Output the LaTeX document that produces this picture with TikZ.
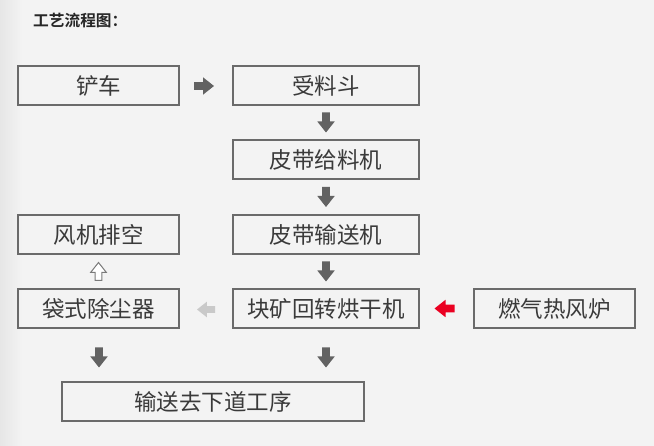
\documentclass[tikz,border=0pt]{standalone}
\usepackage{fontspec}
\newfontfamily\cjk{Noto Sans CJK SC}
\newfontfamily\cjkb{Noto Sans CJK SC Bold}
\usetikzlibrary{calc}
\definecolor{bgc}{HTML}{F3F3F3}
\definecolor{bgl}{HTML}{E6E6E6}
\definecolor{boxc}{HTML}{6A6A6A}
\definecolor{txtc}{HTML}{3A3A3A}
\definecolor{arrg}{HTML}{626262}
\definecolor{arrl}{HTML}{C9C9C9}
\definecolor{arrr}{HTML}{EA0021}
\tikzset{
  box/.style={draw=boxc, line width=1.2pt, minimum height=39pt, inner sep=0pt,
    text=txtc, font=\cjk\fontsize{22.5}{26}\selectfont},
  narrowbox/.style={box, minimum width=161pt},
  widebox/.style={box, minimum width=186pt},
  pics/barrow/.style={code={
    \path[pic actions] (-10,-3.8) -- (-1,-3.8) -- (-1,-8.7) -- (10,0) -- (-1,8.7) -- (-1,3.8) -- (-10,3.8) -- cycle;
  }}
}
\begin{document}
\begin{tikzpicture}[x=1pt,y=-1pt]
\useasboundingbox (0,0) rectangle (654,446);
\fill[bgc] (0,0) rectangle (654,446);
\shade[left color=bgl, right color=bgc] (0,0) rectangle (22,446);

\node[anchor=west, inner sep=0pt, text=black!85, font=\cjkb\fontsize{15.7}{18}\selectfont] (title) at (33,21) {工艺流程图：};

\node[narrowbox] (loader) at (98.5,85.5) {铲车};
\node[widebox] (hopper) at (326,85.5) {受料斗};
\node[widebox] (feeder) at (326,159.5) {皮带给料机};
\node[narrowbox] (fan) at (98.5,234.5) {风机排空};
\node[widebox] (conv) at (326,234.5) {皮带输送机};
\node[narrowbox] (dust) at (98.5,308.5) {袋式除尘器};
\node[widebox] (dryer) at (326,308.5) {块矿回转烘干机};
\node[narrowbox] (stove) at (554.5,308.5) {燃气热风炉};
\node[box, minimum width=302pt] (next) at (213,401.5) {输送去下道工序};

\pic[fill=arrg] at (204,86) {barrow};
\pic[fill=arrg, rotate=-90] at ($(hopper.south)!0.5!(feeder.north)$) {barrow};
\pic[fill=arrg, rotate=-90] at ($(feeder.south)!0.5!(conv.north)$) {barrow};
\pic[fill=arrg, rotate=-90] at ($(conv.south)!0.5!(dryer.north)$) {barrow};
\pic[draw=arrg!85, fill=white, line width=1pt, rotate=90, scale=0.9] at ($(fan.south)!0.5!(dust.north)$) {barrow};
\pic[fill=arrl, rotate=180, scale=0.9] at (206,309.5) {barrow};
\pic[fill=arrr, rotate=180] at (444.5,308.5) {barrow};
\pic[fill=arrg, rotate=-90] at (99,357.5) {barrow};
\pic[fill=arrg, rotate=-90] at (326,357.5) {barrow};
\end{tikzpicture}
\end{document}
